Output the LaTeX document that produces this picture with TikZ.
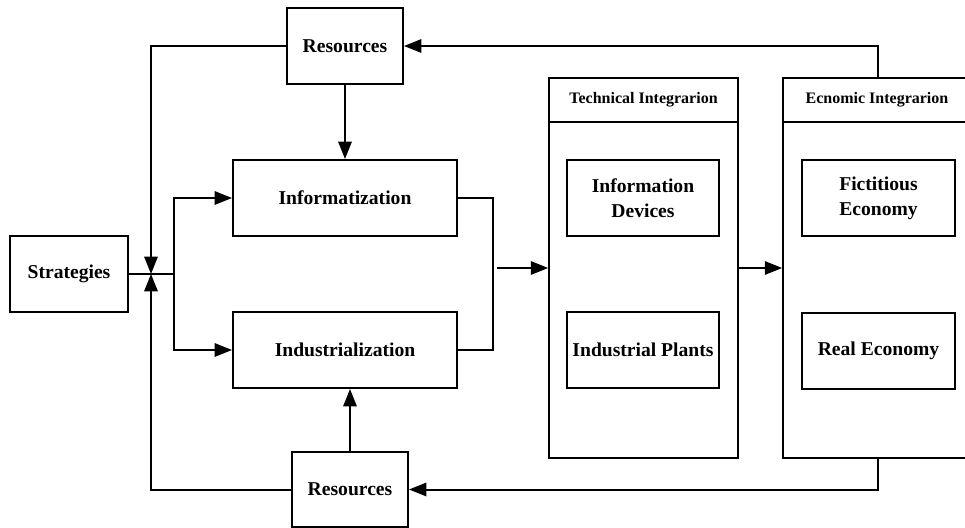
\documentclass[tikz,border=0pt]{standalone}
\usepackage{fontspec}
\setmainfont{Liberation Serif}
\usetikzlibrary{arrows.meta}
\begin{document}
\begin{tikzpicture}[x=0.75pt,y=-0.75pt,
  box/.style={draw,line width=1.5pt,inner sep=0pt,align=center,
    font=\bfseries\fontsize{14.7}{19}\selectfont},
  sz/.style 2 args={minimum width=#1*0.75pt,minimum height=#2*0.75pt},
  panel/.style={draw,line width=1.2pt,inner sep=0pt},
  hdr/.style={inner sep=0pt,font=\bfseries\fontsize{12}{14}\selectfont},
  conn/.style={line width=1.5pt},
  arr/.style={conn,-{Triangle[length=13pt,width=10pt]}},
]
\clip (0,0) rectangle (965,528);
% left part
\node[box,sz={116}{76}] (rt) at (345,46) {Resources};
\node[box,sz={116}{75}] (rb) at (350,489.5) {Resources};
\node[box,sz={118}{76}] (st) at (69,274) {Strategies};
\node[box,sz={224}{76}] (inf) at (345,198) {Informatization};
\node[box,sz={224}{76}] (ind) at (345,350) {Industrialization};
% panels
\node[panel,sz={189}{380}] (tp) at (643.5,268) {};
\node[panel,sz={189}{380}] (ep) at (877.5,268) {};
\coordinate (hy) at (0,122);
\draw[line width=1.2pt] (tp.west |- hy) -- (tp.east |- hy);
\draw[line width=1.2pt] (ep.west |- hy) -- (ep.east |- hy);
\node[hdr] (th) at (643.5,100) {Technical Integrarion};
\node[hdr] (eh) at (877,100) {Ecnomic Integrarion};
\node[box,sz={152}{76}] (idv) at (643,198) {Information\\Devices};
\node[box,sz={152}{76}] (ipl) at (643,350) {Industrial Plants};
\node[box,sz={153}{76}] (fe) at (878.5,198) {Fictitious\\Economy};
\node[box,sz={153}{76}] (re) at (878.5,350.5) {Real Economy};
% connectors
\coordinate (j) at (151,274);
\coordinate (sp) at (174,274);
\draw[arr] (rt.west) -| (j);
\draw[arr] (rb.west) -| (j);
\draw[conn] (st.east) -- (sp);
\draw[arr] (sp) |- (inf.west);
\draw[arr] (sp) |- (ind.west);
\draw[arr] (rt.south) -- (inf.north);
\draw[arr] (rb.north) -- (rb.north |- ind.south);
\coordinate (m1) at (493,198);
\coordinate (m2) at (493,350);
\draw[conn] (inf.east) -- (m1) -- (m2) -- (ind.east);
\coordinate (a0) at (497,268);
\draw[arr] (a0) -- (a0 -| tp.west);
\draw[arr] (tp.east) -- (ep.west);
\coordinate (et) at (878,46);
\coordinate (eb) at (878,489.5);
\draw[arr] (et |- ep.north) -- (et) -- (rt.east);
\draw[arr] (et |- ep.south) -- (eb) -- (rb.east);
\end{tikzpicture}
\end{document}
